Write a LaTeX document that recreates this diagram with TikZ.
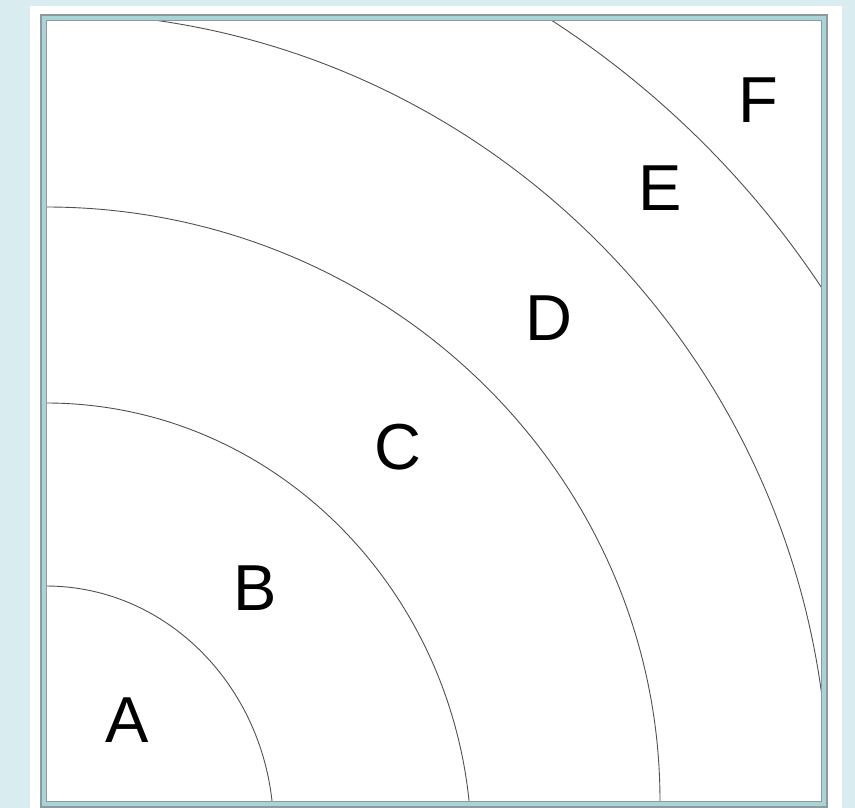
\documentclass[tikz,border=0pt]{standalone}
\usepackage{fontspec}
\setmainfont{Liberation Sans}
\definecolor{bgblue}{HTML}{D9ECEF}
\definecolor{band}{HTML}{A8D4D8}
\definecolor{framegray}{HTML}{8C9A9C}
\definecolor{arcgray}{HTML}{505050}
\begin{document}
\begin{tikzpicture}[x=1pt,y=-1pt,
  ring/.style={draw=arcgray,line width=0.9pt},
  zone/.style={inner sep=0pt,text=black,font=\fontsize{65}{78}\selectfont}]
\useasboundingbox (0,0) rectangle (855,808);
\fill[bgblue] (0,0) rectangle (855,808);
\fill[white] (30,6) rectangle (842,808);
\fill[band] (41,15) rectangle (827,807);
\fill[white] (46,21) rectangle (821,801);
\begin{scope}
  \clip (46,21) rectangle (821,801);
  \draw[ring] (46,830) ellipse [x radius=227.6, y radius=244];
  \draw[ring] (46,850) ellipse [x radius=425.6, y radius=447];
  \draw[ring] (46,801) ellipse [x radius=614, y radius=594];
  \draw[ring] (46,801) ellipse [x radius=782.8, y radius=788.4];
  \draw[ring] (46,801) circle [radius=930];
\end{scope}
\draw[framegray,line width=1.2pt] (41,15) rectangle (827,807);
\draw[framegray,line width=1pt] (46,21) rectangle (821,801);
\node[zone] (la) at (127,720) {A};
\node[zone] (lb) at (255,588) {B};
\node[zone] (lc) at (398,447) {C};
\node[zone] (ld) at (549,318) {D};
\node[zone] (le) at (660,188) {E};
\node[zone] (lf) at (758,100) {F};
\end{tikzpicture}
\end{document}
